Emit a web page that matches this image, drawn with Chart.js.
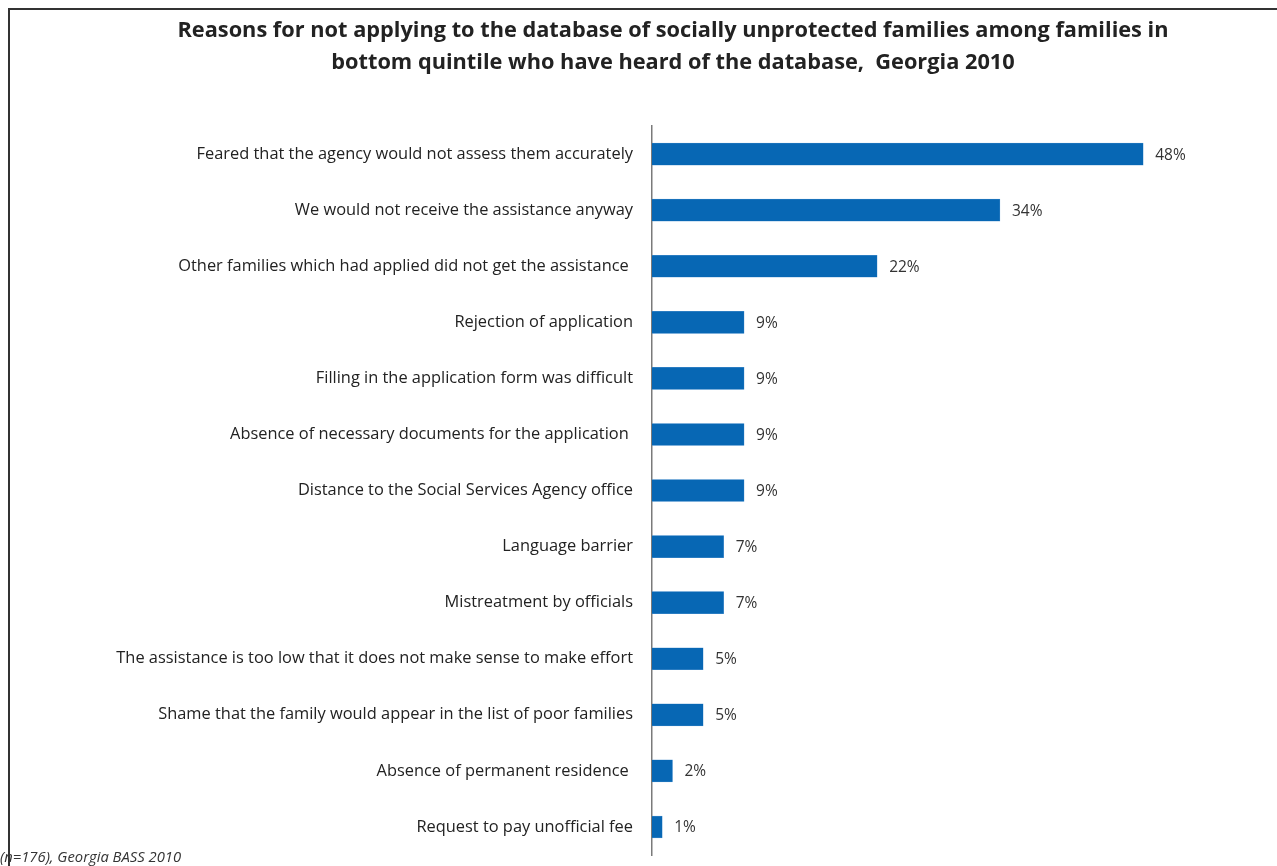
<!DOCTYPE html>
<html>
<head>
<meta charset="utf-8">
<script src="https://cdn.jsdelivr.net/npm/chart.js@4"></script>
<style>
  body { margin: 0; background: #fff; }
  #wrap { position: relative; width: 1277px; height: 866px; overflow: hidden; }
  #frame { position: absolute; left: 8px; top: 8px; width: 1400px; height: 1000px; border-left: 2px solid #333; border-top: 2px solid #333; }
  #note { position: absolute; left: 0; top: 846px; font: italic 14.8px "Open Sans", sans-serif; color: #333; }
  canvas { position: absolute; left: 0; top: 0; }
</style>
</head>
<body>
<div id="wrap">
  <div id="frame"></div>
  <canvas id="grafico" width="1277" height="866"></canvas>
  <div id="note">(n=176), Georgia BASS 2010</div>
</div>
<script>
// Motivos, de cima para baixo
const motivos = [
    'Feared that the agency would not assess them accurately',
    'We would not receive the assistance anyway',
    'Other families which had applied did not get the assistance ',
    'Rejection of application',
    'Filling in the application form was difficult',
    'Absence of necessary documents for the application ',
    'Distance to the Social Services Agency office',
    'Language barrier',
    'Mistreatment by officials',
    'The assistance is too low that it does not make sense to make effort',
    'Shame that the family would appear in the list of poor families',
    'Absence of permanent residence ',
    'Request to pay unofficial fee'
];
const percentuais = [48, 34, 22, 9, 9, 9, 9, 7, 7, 5, 5, 2, 1];

// Rótulo com o valor ao lado de cada barra
const rotulosValor = {
    id: 'rotulosValor',
    afterDatasetsDraw(chart) {
        const ctx = chart.ctx;
        ctx.save();
        ctx.font = '15.5px "Open Sans", sans-serif';
        ctx.fillStyle = '#333';
        ctx.textBaseline = 'middle';
        chart.getDatasetMeta(0).data.forEach((bar, i) => {
            ctx.fillText(percentuais[i] + '%', bar.x + 12, bar.y + 1);
        });
        ctx.restore();
    }
};

const config = {
    type: 'bar',
    data: {
        labels: motivos,
        datasets: [{
            data: percentuais,
            backgroundColor: '#0767b4',
            borderColor: '#4f93cf',
            borderWidth: 0.5,
            barThickness: 22
        }]
    },
    options: {
        indexAxis: 'y',
        responsive: false,
        animation: false,
        layout: {
            padding: { left: 80, right: 11, top: 0, bottom: 11 }
        },
        plugins: {
            legend: { display: false },
            tooltip: { enabled: false },
            title: {
                display: true,
                text: [
                    'Reasons for not applying to the database of socially unprotected families among families in',
                    'bottom quintile who have heard of the database,  Georgia 2010'
                ],
                color: '#222',
                font: { family: '"Open Sans", sans-serif', size: 21.75, weight: 'bold', lineHeight: 1.45 },
                padding: { top: 15, bottom: 48 }
            }
        },
        scales: {
            x: {
                display: false,
                min: 0,
                max: 60
            },
            y: {
                // largura fixa do eixo e sem folga extra em cima/embaixo
                afterFit(scale) {
                    scale.width = 572;
                    scale.paddingTop = 0;
                    scale.paddingBottom = 0;
                },
                grid: { display: false, drawTicks: false },
                border: { display: true, color: '#7a7a7a', width: 1.5 },
                ticks: {
                    color: '#222',
                    padding: 19,
                    font: { family: '"Open Sans", sans-serif', size: 16.4 }
                }
            }
        }
    },
    plugins: [rotulosValor]
};

const ctxGrafico = document.getElementById('grafico').getContext('2d');
const grafico = new Chart(ctxGrafico, config);
</script>
</body>
</html>
